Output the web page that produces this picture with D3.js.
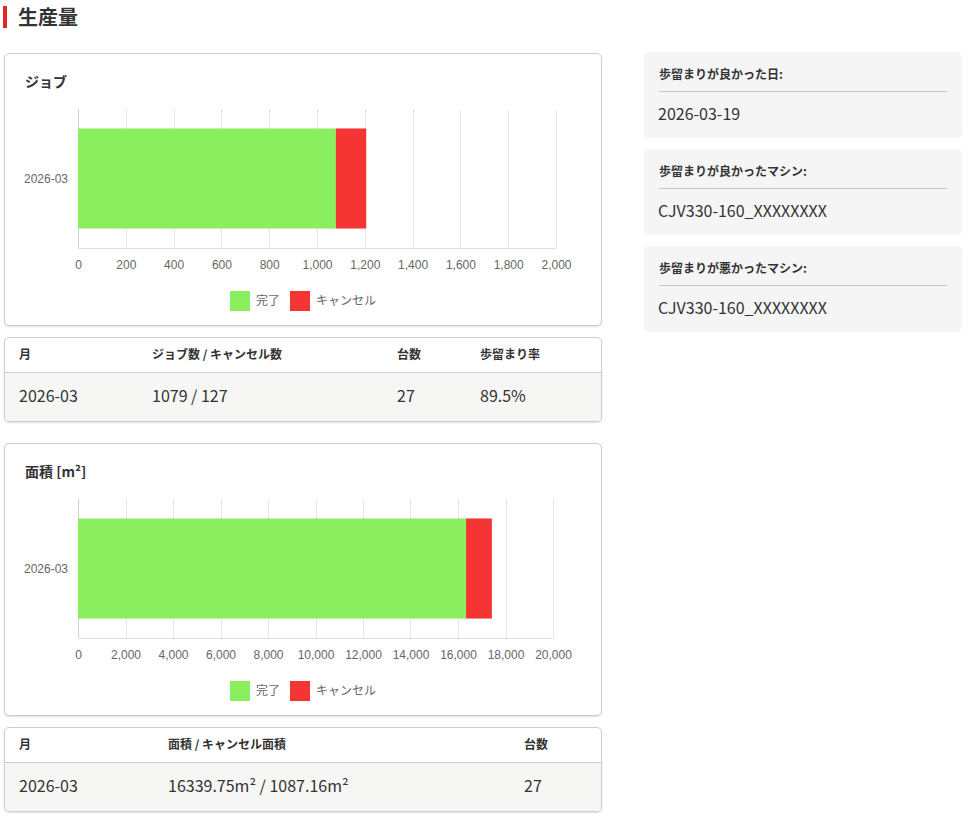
<!DOCTYPE html>
<html>
<head>
<meta charset="utf-8">
<script src="https://cdn.jsdelivr.net/npm/d3@7"></script>
<style>
  body { margin: 0; background: #fff; font-family: "Noto Sans CJK JP", "Noto Sans", sans-serif; color: #333; }
  #page { position: relative; width: 969px; height: 820px; overflow: hidden; }
  .page-title { position: absolute; left: 3px; top: 6px; height: 22px; border-left: 4px solid #e3271c; padding-left: 11px;
    font-size: 20px; font-weight: bold; line-height: 22px; color: #333; }
  .card { position: absolute; left: 4px; width: 596px; border: 1px solid #ccc; border-radius: 5px; background: #fff;
    box-shadow: 0 1px 2px rgba(0,0,0,0.12); overflow: hidden; box-sizing: content-box; }
  .card .title { position: absolute; left: 20px; top: 17px; font-size: 14px; font-weight: bold; color: #333; }
  .tbl .head { position: absolute; left: 0; top: 0; width: 100%; height: 34px; border-bottom: 1px solid #ccc; }
  .tbl .body { position: absolute; left: 0; top: 35px; width: 100%; height: 48px; background: #f6f6f4; }
  .tbl .cell { position: absolute; white-space: nowrap; }
  .tbl .head .cell { top: 7px; font-size: 12px; font-weight: bold; }
  .tbl .body .cell { top: 10px; font-size: 16px; }
  .panel { position: absolute; left: 644px; width: 318px; height: 86px; background: #f5f5f5; border-radius: 5px; }
  .panel .lbl { position: absolute; left: 15px; top: 13px; font-size: 12px; font-weight: bold; }
  .panel .rule { position: absolute; left: 15px; top: 39px; width: 288px; border-top: 1px solid #c8c8c8; }
  .panel .val { position: absolute; left: 14px; top: 49px; font-size: 16px; }
</style>
</head>
<body>
<div id="page"></div>
<script>
const months = ["2026-03"];
const jobDone = [1079];
const jobCancel = [127];
const areaDone = [16339.75];
const areaCancel = [1087.16];
const machineCount = [27];
const yieldRate = ["89.5%"];
const jobTicks = [0, 200, 400, 600, 800, 1000, 1200, 1400, 1600, 1800, 2000];
const areaTicks = [0, 2000, 4000, 6000, 8000, 10000, 12000, 14000, 16000, 18000, 20000];
const seriesNames = ["完了", "キャンセル"];
const seriesColors = ["#8bee5e", "#f53434"];
const summaryLabels = ["歩留まりが良かった日:", "歩留まりが良かったマシン:", "歩留まりが悪かったマシン:"];
const summaryValues = ["2026-03-19", "CJV330-160_XXXXXXXX", "CJV330-160_XXXXXXXX"];

const page = d3.select("#page");
page.append("div").attr("class", "page-title").text("生産量");

function drawChart(top, title, done, cancel, ticks, plotRight) {
  const card = page.append("div").attr("class", "card")
    .style("top", top + "px").style("height", "271px");
  card.append("div").attr("class", "title").text(title);

  const svg = card.append("svg").attr("width", 596).attr("height", 271)
    .style("position", "absolute").style("left", 0).style("top", 0);

  const top0 = 55, bottom0 = 194;
  const x = d3.scaleLinear().domain([ticks[0], ticks[ticks.length - 1]]).range([73, plotRight]);
  const y = d3.scaleBand().domain(months).range([top0, bottom0]);

  // gridlines
  svg.append("g").selectAll("line").data(ticks).join("line")
    .attr("x1", d => Math.round(x(d)) + 0.5).attr("x2", d => Math.round(x(d)) + 0.5)
    .attr("y1", top0).attr("y2", bottom0)
    .attr("stroke", (d, i) => i === 0 ? "#d0d0d0" : "#e6e6e6");
  svg.append("line").attr("x1", 73).attr("x2", plotRight + 0.5).attr("y1", bottom0 + 0.5).attr("y2", bottom0 + 0.5)
    .attr("stroke", "#e0e0e0");

  // stacked bars
  const rows = months.map((m, i) => ({ m, done: done[i], cancel: cancel[i] }));
  const stack = d3.stack().keys(["done", "cancel"])(rows);
  const bh = y.bandwidth() * 0.72;
  svg.append("g").selectAll("g").data(stack).join("g")
    .attr("fill", (d, i) => seriesColors[i])
    .selectAll("rect").data(d => d).join("rect")
    .attr("x", d => x(d[0]))
    .attr("width", d => x(d[1]) - x(d[0]))
    .attr("y", d => y(d.data.m) + (y.bandwidth() - bh) / 2)
    .attr("height", bh);

  // x axis labels
  const xa = svg.append("g").attr("transform", `translate(0,${bottom0})`)
    .call(d3.axisBottom(x).tickValues(ticks).tickFormat(d3.format(",")).tickSize(0).tickPadding(12));
  xa.select(".domain").remove();
  xa.selectAll("text").attr("fill", "#666").style("font-family", "'Liberation Sans', Arial, sans-serif").style("font-size", "12px");

  // y axis labels
  const ya = svg.append("g").attr("transform", "translate(73,1)")
    .call(d3.axisLeft(y).tickSize(0).tickPadding(10));
  ya.select(".domain").remove();
  ya.selectAll("text").attr("fill", "#666").style("font-family", "'Liberation Sans', Arial, sans-serif").style("font-size", "12px");

  // legend
  const lg = svg.append("g").selectAll("g").data(seriesNames).join("g")
    .attr("transform", (d, i) => `translate(${225 + i * 60},237)`);
  lg.append("rect").attr("width", 20).attr("height", 20).attr("fill", (d, i) => seriesColors[i]);
  lg.append("text").attr("x", 26).attr("y", 14).attr("fill", "#666")
    .style("font-size", "12px").text(d => d);
}

function drawTable(top, headers, cols, values) {
  const t = page.append("div").attr("class", "card tbl")
    .style("top", top + "px").style("height", "83px");
  t.append("div").attr("class", "head").selectAll("div").data(headers).join("div")
    .attr("class", "cell").style("left", (d, i) => cols[i] + "px").text(d => d);
  t.append("div").attr("class", "body").selectAll("div").data(values).join("div")
    .attr("class", "cell").style("left", (d, i) => cols[i] + "px").text(d => d);
}

drawChart(53, "ジョブ", jobDone, jobCancel, jobTicks, 551);
drawTable(337, ["月", "ジョブ数 / キャンセル数", "台数", "歩留まり率"], [14, 147, 392, 475],
  [months[0], `${jobDone[0]} / ${jobCancel[0]}`, machineCount[0], yieldRate[0]]);

drawChart(443, "面積 [m²]", areaDone, areaCancel, areaTicks, 548);
drawTable(727, ["月", "面積 / キャンセル面積", "台数"], [14, 163, 519],
  [months[0], `${areaDone[0]}m² / ${areaCancel[0]}m²`, machineCount[0]]);

const panels = page.selectAll(".panel").data(summaryLabels).join("div")
  .attr("class", "panel").style("top", (d, i) => (52 + i * 97) + "px");
panels.append("div").attr("class", "lbl").text(d => d);
panels.append("div").attr("class", "rule");
panels.append("div").attr("class", "val").text((d, i) => summaryValues[i]);
</script>
</body>
</html>
